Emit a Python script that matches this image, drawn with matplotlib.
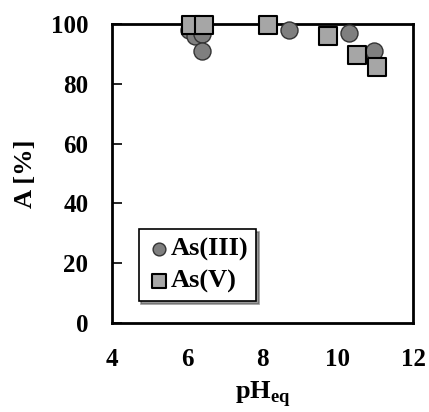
import matplotlib.pyplot as plt

ph_as3 = [6.05, 6.2, 6.4, 6.4, 8.7, 10.3, 10.95]
a_as3 = [98, 96, 96.5, 91, 98, 97, 91]

ph_as5 = [6.1, 6.45, 8.15, 9.75, 10.5, 11.05]
a_as5 = [99.5, 99.5, 99.5, 96, 89.5, 85.5]

plt.rcParams['font.family'] = 'Liberation Serif'
plt.rcParams['font.weight'] = 'bold'
plt.rcParams['mathtext.fontset'] = 'custom'
plt.rcParams['mathtext.rm'] = 'Liberation Serif:bold'
plt.rcParams['mathtext.bf'] = 'Liberation Serif:bold'

fig = plt.figure(figsize=(4.29, 4.12), dpi=100)
ax = fig.add_axes([0.261, 0.216, 0.702, 0.726])

ax.scatter(ph_as3, a_as3, s=150, marker='o', facecolor='#7f7f7f',
           edgecolor='#333333', linewidth=1, label='As(III)', zorder=3, clip_on=False)
ax.scatter(ph_as5, a_as5, s=160, marker='s', facecolor='#a6a6a6',
           edgecolor='black', linewidth=1.5, label='As(V)', zorder=4, clip_on=False)

ax.set_xlim(4, 12)
ax.set_ylim(0, 100)
ax.set_xticks([4, 6, 8, 10, 12])
ax.set_yticks([0, 20, 40, 60, 80, 100])
ax.tick_params(axis='y', direction='in', length=7, width=1.2, pad=17, labelsize=18)
ax.tick_params(axis='x', length=0, pad=18, labelsize=18)
for sp in ax.spines.values():
    sp.set_linewidth(2)

ax.set_xlabel('pH$_{\\mathbf{eq}}$', fontsize=19, fontweight='bold', labelpad=6)
ax.set_ylabel('A [%]', fontsize=19, fontweight='bold', labelpad=10)

leg = ax.legend(loc='lower left', bbox_to_anchor=(0.045, 0.03), fontsize=19,
                handletextpad=0.0, handlelength=0.9, borderpad=0.3,
                labelspacing=0.3, markerscale=0.75, fancybox=False,
                shadow={'color': '#555555', 'alpha': 0.6}, edgecolor='black')
leg.get_frame().set_linewidth(1.2)

fig.savefig('out.png', dpi=100)
